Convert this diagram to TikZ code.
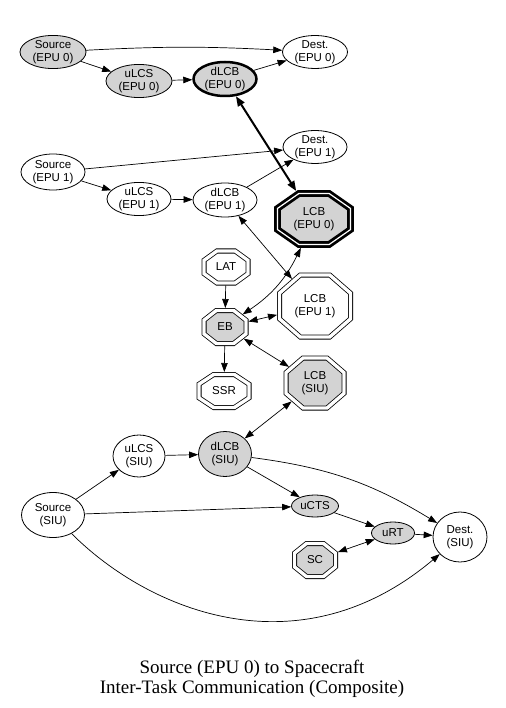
\documentclass[tikz,border=0pt]{standalone}
\usepackage{fontspec}
\setmainfont{Liberation Serif}
\newfontfamily\taskfont{Liberation Sans}
\usetikzlibrary{arrows.meta,shapes.geometric}
\definecolor{shade}{RGB}{211,211,211}

% stretched octagon, sized by minimum width/height
\makeatletter
\pgfdeclareshape{octobox}{
  \savedanchor\northeast{%
    \pgfmathsetlength\pgf@x{.5*\pgfkeysvalueof{/pgf/minimum width}}%
    \pgfmathsetlength\pgf@y{.5*\pgfkeysvalueof{/pgf/minimum height}}%
  }
  \savedanchor\outerne{%
    \pgfmathsetlength\pgf@x{.5*\pgfkeysvalueof{/pgf/minimum width}+\pgfkeysvalueof{/pgf/outer xsep}}%
    \pgfmathsetlength\pgf@y{.5*\pgfkeysvalueof{/pgf/minimum height}+\pgfkeysvalueof{/pgf/outer ysep}}%
  }
  \savedanchor\textorigin{%
    \pgf@x=-.5\wd\pgfnodeparttextbox
    \pgf@y=-.5\ht\pgfnodeparttextbox
    \advance\pgf@y by .5\dp\pgfnodeparttextbox
  }
  \anchor{center}{\pgfpointorigin}
  \anchor{text}{\textorigin}
  \backgroundpath{%
    \northeast
    \pgf@xa=\pgf@x \pgf@ya=\pgf@y
    \pgf@xb=0.41421\pgf@xa \pgf@yb=0.41421\pgf@ya
    \pgfpathmoveto{\pgfqpoint{\pgf@xa}{\pgf@yb}}%
    \pgfpathlineto{\pgfqpoint{\pgf@xb}{\pgf@ya}}%
    \pgfpathlineto{\pgfqpoint{-\pgf@xb}{\pgf@ya}}%
    \pgfpathlineto{\pgfqpoint{-\pgf@xa}{\pgf@yb}}%
    \pgfpathlineto{\pgfqpoint{-\pgf@xa}{-\pgf@yb}}%
    \pgfpathlineto{\pgfqpoint{-\pgf@xb}{-\pgf@ya}}%
    \pgfpathlineto{\pgfqpoint{\pgf@xb}{-\pgf@ya}}%
    \pgfpathlineto{\pgfqpoint{\pgf@xa}{-\pgf@yb}}%
    \pgfpathclose
  }
  \anchorborder{%
    \edef\octdx{\the\pgf@x}\edef\octdy{\the\pgf@y}%
    \outerne
    \edef\octa{\the\pgf@x}\edef\octb{\the\pgf@y}%
    \pgfmathsetmacro\octs{max(abs(\octdx)/\octa,abs(\octdy)/\octb,(abs(\octdx)/\octa+abs(\octdy)/\octb)/1.41421)}%
    \pgfmathsetlength\pgf@x{\octdx/\octs}%
    \pgfmathsetlength\pgf@y{\octdy/\octs}%
  }
}
\makeatother

\begin{document}
\begin{tikzpicture}[x=1pt,y=1pt,
    task/.style={ellipse,draw,line width=0.8pt,inner sep=0pt,align=center,font=\taskfont\fontsize{11.5}{13}\selectfont},
    busy/.style={fill=shade},
    oct/.style 2 args={octobox,draw,double,double distance=3.4pt,line width=0.8pt,outer sep=2.5pt,align=center,
      font=\taskfont\fontsize{11.5}{13}\selectfont,minimum width=#1,minimum height=#2},
    msg/.style={-{Triangle[length=9pt,width=6.5pt]},line width=0.7pt},
    duplex/.style={{Triangle[length=9pt,width=6.5pt]}-{Triangle[length=9pt,width=6.5pt]},line width=0.7pt}]
  \fill[white] (0,0) rectangle (505,-708);
  \useasboundingbox (0,0) rectangle (505,-708);

  % EPU 0
  \node[task,busy,minimum width=66,minimum height=32] (srcA) at (53,-52) {Source\\(EPU 0)};
  \node[task,busy,minimum width=66,minimum height=32] (ulcsA) at (139,-81) {uLCS\\(EPU 0)};
  \node[task,busy,line width=2.5pt,minimum width=63,minimum height=34] (dlcbA) at (225,-79) {dLCB\\(EPU 0)};
  \node[task,minimum width=65,minimum height=31] (destA) at (315,-52) {Dest.\\(EPU 0)};

  % EPU 1
  \node[task,minimum width=64,minimum height=31] (destB) at (315,-147) {Dest.\\(EPU 1)};
  \node[task,minimum width=64,minimum height=36] (srcB) at (53,-172) {Source\\(EPU 1)};
  \node[task,minimum width=64,minimum height=33] (ulcsB) at (139,-199) {uLCS\\(EPU 1)};
  \node[task,minimum width=64,minimum height=34] (dlcbB) at (225,-200) {dLCB\\(EPU 1)};

  % buffers
  \node[oct={73}{51},busy,line width=2.8pt,double distance=1.2pt,outer sep=3.4pt] (lcbA) at (314,-219) {LCB\\(EPU 0)};
  \node[oct={44}{32}] (lat) at (226,-267) {LAT};
  \node[oct={71}{62}] (lcbB) at (315,-306) {LCB\\(EPU 1)};
  \node[oct={42}{33},busy] (eb) at (225,-327) {EB};
  \node[oct={50}{33}] (ssr) at (224,-391) {SSR};
  \node[oct={58}{50},busy] (lcbC) at (315,-383) {LCB\\(SIU)};

  % SIU
  \node[task,minimum width=52,minimum height=42] (ulcsC) at (139,-456) {uLCS\\(SIU)};
  \node[task,busy,minimum width=53,minimum height=45] (dlcbC) at (225,-454) {dLCB\\(SIU)};
  \node[task,minimum width=63,minimum height=45] (srcC) at (53,-515) {Source\\(SIU)};
  \node[task,busy,minimum width=47,minimum height=22] (ucts) at (315,-506) {uCTS};
  \node[task,busy,minimum width=43,minimum height=22] (urt) at (393,-533) {uRT};
  \node[task,minimum width=54,minimum height=50] (destC) at (460,-537) {Dest.\\(SIU)};
  \node[oct={41}{33},busy] (sc) at (315,-560) {SC};

  \draw[msg] (srcA) to[bend left=3] (destA);
  \draw[msg] (srcA) -- (ulcsA);
  \draw[msg] (ulcsA) -- (dlcbA);
  \draw[msg] (dlcbA) -- (destA);
  \draw[duplex,line width=2pt,{Triangle[length=10pt,width=7.5pt]}-{Triangle[length=10pt,width=7.5pt]}] (dlcbA) -- (lcbA);

  \draw[msg] (srcB) -- (destB);
  \draw[msg] (srcB) -- (ulcsB);
  \draw[msg] (ulcsB) -- (dlcbB);
  \draw[msg] (dlcbB) -- (destB);
  \draw[duplex] (dlcbB) -- (lcbB);

  \draw[duplex] (lcbA) to[bend left=15] (eb);
  \draw[msg] (lat) -- (eb);
  \draw[duplex] (eb) -- (lcbB);
  \draw[msg] (eb) -- (ssr);
  \draw[duplex] (eb) -- (lcbC);
  \draw[duplex] (lcbC) -- (dlcbC);

  \draw[msg] (srcC) -- (ulcsC);
  \draw[msg] (ulcsC) -- (dlcbC);
  \draw[msg] (dlcbC) to[bend left=12] (destC);
  \draw[msg] (dlcbC) -- (ucts);
  \draw[msg] (srcC) -- (ucts);
  \draw[msg] (ucts) -- (urt);
  \draw[msg] (urt) -- (destC);
  \draw[duplex] (sc) -- (urt);
  \draw[msg] (srcC) .. controls (150,-612) and (300,-672) .. (destC);

  \node[align=center,font=\fontsize{19}{20}\selectfont] (title) at (252,-679) {Source (EPU 0) to Spacecraft\\Inter-Task Communication (Composite)};
\end{tikzpicture}
\end{document}
